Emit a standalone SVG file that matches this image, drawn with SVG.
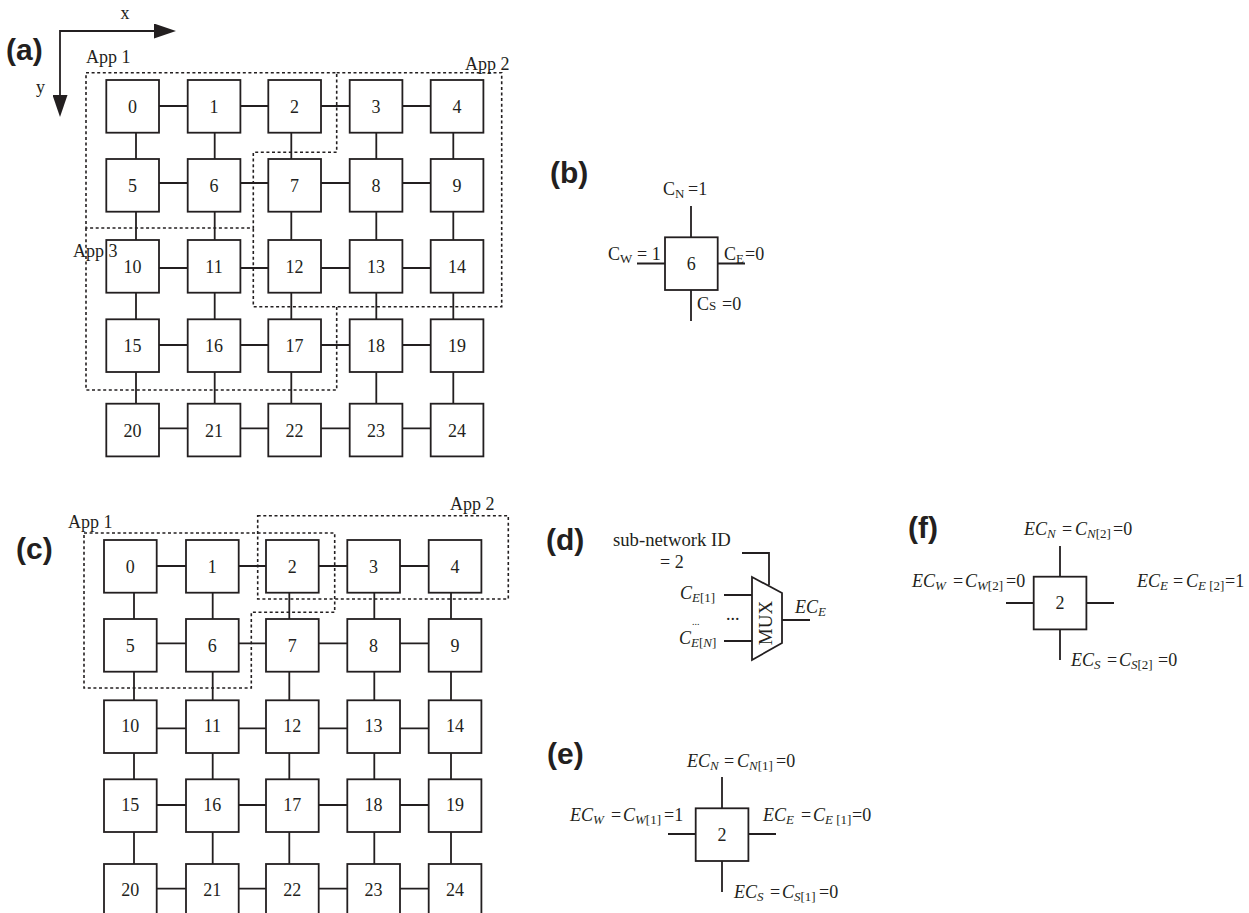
<svg xmlns="http://www.w3.org/2000/svg" width="1249" height="913" viewBox="0 0 1249 913">
<style>
text{font-family:"Liberation Serif","Times New Roman",serif;font-size:18px;fill:#231f20}
.n{fill:#fff;stroke:#231f20;stroke-width:1.8}
.d{text-anchor:middle}
.c{fill:none;stroke:#231f20;stroke-width:1.8}
.r{fill:none;stroke:#231f20;stroke-width:1.6;stroke-dasharray:3 2.6}
text.p{font-family:"Liberation Sans",Arial,sans-serif;font-weight:bold;font-size:30px}
.i{font-style:italic}
.si{font-style:italic;font-size:13px}
.sr{font-size:13px}
</style>
<defs>
<rect id="box" class="n" width="52.7" height="52.7"/>
<marker id="arr" markerUnits="userSpaceOnUse" markerWidth="22" markerHeight="15" refX="0" refY="7.5" orient="auto"><path d="M0 0L22 7.5L0 15z" fill="#231f20"/></marker>
</defs>
<g id="connectors">
<path class="c" marker-end="url(#arr)" d="M60 31H154"/>
<path class="c" marker-end="url(#arr)" d="M60 30V95"/>
<path class="c" d="M158 106H189M239 106H270M320 106H351M401 106H432M158 183H189M239 183H270M320 183H351M401 183H432M158 268H189M239 268H270M320 268H351M401 268H432M158 345H189M239 345H270M320 345H351M401 345H432M158 428.300H189M239 428.300H270M320 428.300H351M401 428.300H432"/>
<path class="c" d="M136 132V160M214.700 132V160M291.300 132V160M376.300 132V160M453.300 132V160M136 211V241M214.700 211V241M291.300 211V241M376.300 211V241M453.300 211V241M136 292V320M214.700 292V320M291.300 292V320M376.300 292V320M453.300 292V320M136 371V404M214.700 371V404M291.300 371V404M376.300 371V404M453.300 371V404"/>
<path class="c" d="M156 566H187M238 566H267M318 566H348M399 566H429M156 643.300H187M238 643.300H267M318 643.300H348M399 643.300H429M156 728.300H187M238 728.300H267M318 728.300H348M399 728.300H429M156 805H187M238 805H267M318 805H348M399 805H429M156 888.700H187M238 888.700H267M318 888.700H348M399 888.700H429"/>
<path class="c" d="M134 592V620M212.700 592V620M289.300 592V620M374.300 592V620M451 592V620M134 671V701M212.700 671V701M289.300 671V701M374.300 671V701M451 671V701M134 752V780M212.700 752V780M289.300 752V780M374.300 752V780M451 752V780M134 831V865M212.700 831V865M289.300 831V865M374.300 831V865M451 831V865"/>
<path class="c" d="M691 206V237M637 263.500H665M717 263.500H745M691 290V321"/>
<path class="c" d="M1060 546V577M1006 603H1034M1086 603H1114M1060 629V660"/>
<path class="c" d="M722 777V808M668 834H696M748 834H776M722 861V892"/>
<path class="c" d="M742 553H769V585M724 595H752M724 641H752M782 620H810"/>
</g>
<g id="grid-a">
<g id="a0"><use href="#box" x="106.300" y="80"/><text class="d" x="132.600" y="112.500">0</text></g>
<g id="a1"><use href="#box" x="187.700" y="80"/><text class="d" x="214" y="112.500">1</text></g>
<g id="a2"><use href="#box" x="268.300" y="80"/><text class="d" x="294.600" y="112.500">2</text></g>
<g id="a3"><use href="#box" x="349.700" y="80"/><text class="d" x="376" y="112.500">3</text></g>
<g id="a4"><use href="#box" x="430.700" y="80"/><text class="d" x="457" y="112.500">4</text></g>
<g id="a5"><use href="#box" x="106.300" y="159"/><text class="d" x="132.600" y="191.500">5</text></g>
<g id="a6"><use href="#box" x="187.700" y="159"/><text class="d" x="214" y="191.500">6</text></g>
<g id="a7"><use href="#box" x="268.300" y="159"/><text class="d" x="294.600" y="191.500">7</text></g>
<g id="a8"><use href="#box" x="349.700" y="159"/><text class="d" x="376" y="191.500">8</text></g>
<g id="a9"><use href="#box" x="430.700" y="159"/><text class="d" x="457" y="191.500">9</text></g>
<g id="a10"><use href="#box" x="106.300" y="240"/><text class="d" x="132.600" y="272.500">10</text></g>
<g id="a11"><use href="#box" x="187.700" y="240"/><text class="d" x="214" y="272.500">11</text></g>
<g id="a12"><use href="#box" x="268.300" y="240"/><text class="d" x="294.600" y="272.500">12</text></g>
<g id="a13"><use href="#box" x="349.700" y="240"/><text class="d" x="376" y="272.500">13</text></g>
<g id="a14"><use href="#box" x="430.700" y="240"/><text class="d" x="457" y="272.500">14</text></g>
<g id="a15"><use href="#box" x="106.300" y="319.300"/><text class="d" x="132.600" y="351.500">15</text></g>
<g id="a16"><use href="#box" x="187.700" y="319.300"/><text class="d" x="214" y="351.500">16</text></g>
<g id="a17"><use href="#box" x="268.300" y="319.300"/><text class="d" x="294.600" y="351.500">17</text></g>
<g id="a18"><use href="#box" x="349.700" y="319.300"/><text class="d" x="376" y="351.500">18</text></g>
<g id="a19"><use href="#box" x="430.700" y="319.300"/><text class="d" x="457" y="351.500">19</text></g>
<g id="a20"><use href="#box" x="106.300" y="403.700"/><text class="d" x="132.600" y="436.500">20</text></g>
<g id="a21"><use href="#box" x="187.700" y="403.700"/><text class="d" x="214" y="436.500">21</text></g>
<g id="a22"><use href="#box" x="268.300" y="403.700"/><text class="d" x="294.600" y="436.500">22</text></g>
<g id="a23"><use href="#box" x="349.700" y="403.700"/><text class="d" x="376" y="436.500">23</text></g>
<g id="a24"><use href="#box" x="430.700" y="403.700"/><text class="d" x="457" y="436.500">24</text></g>
</g>
<g id="grid-c">
<g id="c0"><use href="#box" x="104" y="540"/><text class="d" x="130.300" y="572.500">0</text></g>
<g id="c1"><use href="#box" x="186" y="540"/><text class="d" x="212.300" y="572.500">1</text></g>
<g id="c2"><use href="#box" x="266" y="540"/><text class="d" x="292.300" y="572.500">2</text></g>
<g id="c3"><use href="#box" x="347.300" y="540"/><text class="d" x="373.600" y="572.500">3</text></g>
<g id="c4"><use href="#box" x="428.700" y="540"/><text class="d" x="455" y="572.500">4</text></g>
<g id="c5"><use href="#box" x="104" y="619"/><text class="d" x="130.300" y="651.500">5</text></g>
<g id="c6"><use href="#box" x="186" y="619"/><text class="d" x="212.300" y="651.500">6</text></g>
<g id="c7"><use href="#box" x="266" y="619"/><text class="d" x="292.300" y="651.500">7</text></g>
<g id="c8"><use href="#box" x="347.300" y="619"/><text class="d" x="373.600" y="651.500">8</text></g>
<g id="c9"><use href="#box" x="428.700" y="619"/><text class="d" x="455" y="651.500">9</text></g>
<g id="c10"><use href="#box" x="104" y="700.300"/><text class="d" x="130.300" y="731.500">10</text></g>
<g id="c11"><use href="#box" x="186" y="700.300"/><text class="d" x="212.300" y="731.500">11</text></g>
<g id="c12"><use href="#box" x="266" y="700.300"/><text class="d" x="292.300" y="731.500">12</text></g>
<g id="c13"><use href="#box" x="347.300" y="700.300"/><text class="d" x="373.600" y="731.500">13</text></g>
<g id="c14"><use href="#box" x="428.700" y="700.300"/><text class="d" x="455" y="731.500">14</text></g>
<g id="c15"><use href="#box" x="104" y="779.300"/><text class="d" x="130.300" y="810.500">15</text></g>
<g id="c16"><use href="#box" x="186" y="779.300"/><text class="d" x="212.300" y="810.500">16</text></g>
<g id="c17"><use href="#box" x="266" y="779.300"/><text class="d" x="292.300" y="810.500">17</text></g>
<g id="c18"><use href="#box" x="347.300" y="779.300"/><text class="d" x="373.600" y="810.500">18</text></g>
<g id="c19"><use href="#box" x="428.700" y="779.300"/><text class="d" x="455" y="810.500">19</text></g>
<g id="c20"><use href="#box" x="104" y="864"/><text class="d" x="130.300" y="895.500">20</text></g>
<g id="c21"><use href="#box" x="186" y="864"/><text class="d" x="212.300" y="895.500">21</text></g>
<g id="c22"><use href="#box" x="266" y="864"/><text class="d" x="292.300" y="895.500">22</text></g>
<g id="c23"><use href="#box" x="347.300" y="864"/><text class="d" x="373.600" y="895.500">23</text></g>
<g id="c24"><use href="#box" x="428.700" y="864"/><text class="d" x="455" y="895.500">24</text></g>
</g>
<g id="regions">
<path id="a-app1" class="r" d="M86 72.700H336.700V152.300H253.300V228H86Z"/>
<path id="a-app2" class="r" d="M336.700 72.700H501.700V306.700H253.300V228"/>
<path id="a-app3" class="r" d="M86 228V390H336.700V306.700"/>
<path id="c-app1" class="r" d="M84 533H334.700V612.300H251.300V688H84Z"/>
<path id="c-app2" class="r" d="M257.700 515.700H508.300V599H257.700Z"/>
</g>
<g id="node-b"><use href="#box" x="665" y="237.300"/><text class="d" x="691.300" y="269.500">6</text></g>
<g id="node-e"><use href="#box" x="695.700" y="808.300"/><text class="d" x="722" y="840.500">2</text></g>
<g id="node-f"><use href="#box" x="1033.700" y="576.700"/><text class="d" x="1060" y="609">2</text></g>
<g id="node-mux"><path class="c" d="M752 577L782 593V643L752 660Z" fill="#fff"/><text class="d" transform="rotate(-90 772 623)" x="772" y="623" style="font-size:19px">MUX</text></g>
<g id="labels">
<text class="p" x="6" y="60">(a)</text>
<text class="p" x="550" y="183">(b)</text>
<text class="p" x="16" y="559">(c)</text>
<text class="p" x="546" y="550">(d)</text>
<text class="p" x="547" y="764">(e)</text>
<text class="p" x="908" y="538">(f)</text>
<text class="d" x="125" y="19">x</text>
<text x="36" y="93">y</text>
<text x="86" y="63">App 1</text>
<text x="465" y="70">App 2</text>
<text x="73" y="257">App 3</text>
<text x="68" y="528">App 1</text>
<text x="450" y="510">App 2</text>
<text x="663" y="195">C<tspan class="sr" dy="3">N</tspan><tspan x="688" dy="-3">=1</tspan></text>
<text x="608" y="260">C<tspan class="sr" dy="3">W</tspan><tspan x="637" dy="-3">= 1</tspan></text>
<text x="724" y="260">C<tspan class="sr" dy="3">E</tspan><tspan x="745" dy="-3">=0</tspan></text>
<text x="697" y="310">C<tspan class="sr">S</tspan><tspan x="722">=0</tspan></text>
<text x="613" y="546" style="font-size:18.7px">sub-network ID</text>
<text x="660" y="568">= 2</text>
<text x="680" y="599"><tspan class="i">C</tspan><tspan class="si" dy="3">E</tspan><tspan class="sr">[1]</tspan></text>
<text x="679" y="644"><tspan class="i">C</tspan><tspan class="si" dy="3">E</tspan><tspan class="sr">[</tspan><tspan class="si">N</tspan><tspan class="sr">]</tspan></text>
<text x="692" y="625" style="font-size:10px">...</text>
<text x="726" y="620">...</text>
<text x="795" y="613"><tspan class="i">EC</tspan><tspan class="si" dy="3">E</tspan></text>
<text x="1024" y="535"><tspan class="i">EC</tspan><tspan class="si" dy="3">N</tspan><tspan x="1062" dy="-3">=</tspan><tspan class="i" x="1075">C</tspan><tspan class="si" dy="3">N</tspan><tspan class="sr">[2]</tspan><tspan x="1113" dy="-3">=0</tspan></text>
<text x="912" y="587"><tspan class="i">EC</tspan><tspan class="si" dy="3">W</tspan><tspan x="953" dy="-3">=</tspan><tspan class="i" x="965">C</tspan><tspan class="si" dy="3">W</tspan><tspan class="sr">[2]</tspan><tspan x="1006" dy="-3">=0</tspan></text>
<text x="1137" y="587"><tspan class="i">EC</tspan><tspan class="si" dy="3">E</tspan><tspan x="1173" dy="-3">=</tspan><tspan class="i" x="1186">C</tspan><tspan class="si" dy="3">E</tspan><tspan class="sr"> [2]</tspan><tspan x="1225" dy="-3">=1</tspan></text>
<text x="1071" y="666"><tspan class="i">EC</tspan><tspan class="si" dy="3">S</tspan><tspan x="1107" dy="-3">=</tspan><tspan class="i" x="1119">C</tspan><tspan class="si" dy="3">S</tspan><tspan class="sr">[2]</tspan><tspan x="1158" dy="-3">=0</tspan></text>
<text x="687" y="767"><tspan class="i">EC</tspan><tspan class="si" dy="3">N</tspan><tspan x="724" dy="-3">=</tspan><tspan class="i" x="737">C</tspan><tspan class="si" dy="3">N</tspan><tspan class="sr">[1]</tspan><tspan x="776" dy="-3">=0</tspan></text>
<text x="570" y="821"><tspan class="i">EC</tspan><tspan class="si" dy="3">W</tspan><tspan x="611" dy="-3">=</tspan><tspan class="i" x="623">C</tspan><tspan class="si" dy="3">W</tspan><tspan class="sr">[1]</tspan><tspan x="664" dy="-3">=1</tspan></text>
<text x="763" y="821"><tspan class="i">EC</tspan><tspan class="si" dy="3">E</tspan><tspan x="801" dy="-3">=</tspan><tspan class="i" x="813">C</tspan><tspan class="si" dy="3">E</tspan><tspan class="sr"> [1]</tspan><tspan x="852" dy="-3">=0</tspan></text>
<text x="734" y="898"><tspan class="i">EC</tspan><tspan class="si" dy="3">S</tspan><tspan x="770" dy="-3">=</tspan><tspan class="i" x="782">C</tspan><tspan class="si" dy="3">S</tspan><tspan class="sr">[1]</tspan><tspan x="819" dy="-3">=0</tspan></text>
</g>
</svg>
